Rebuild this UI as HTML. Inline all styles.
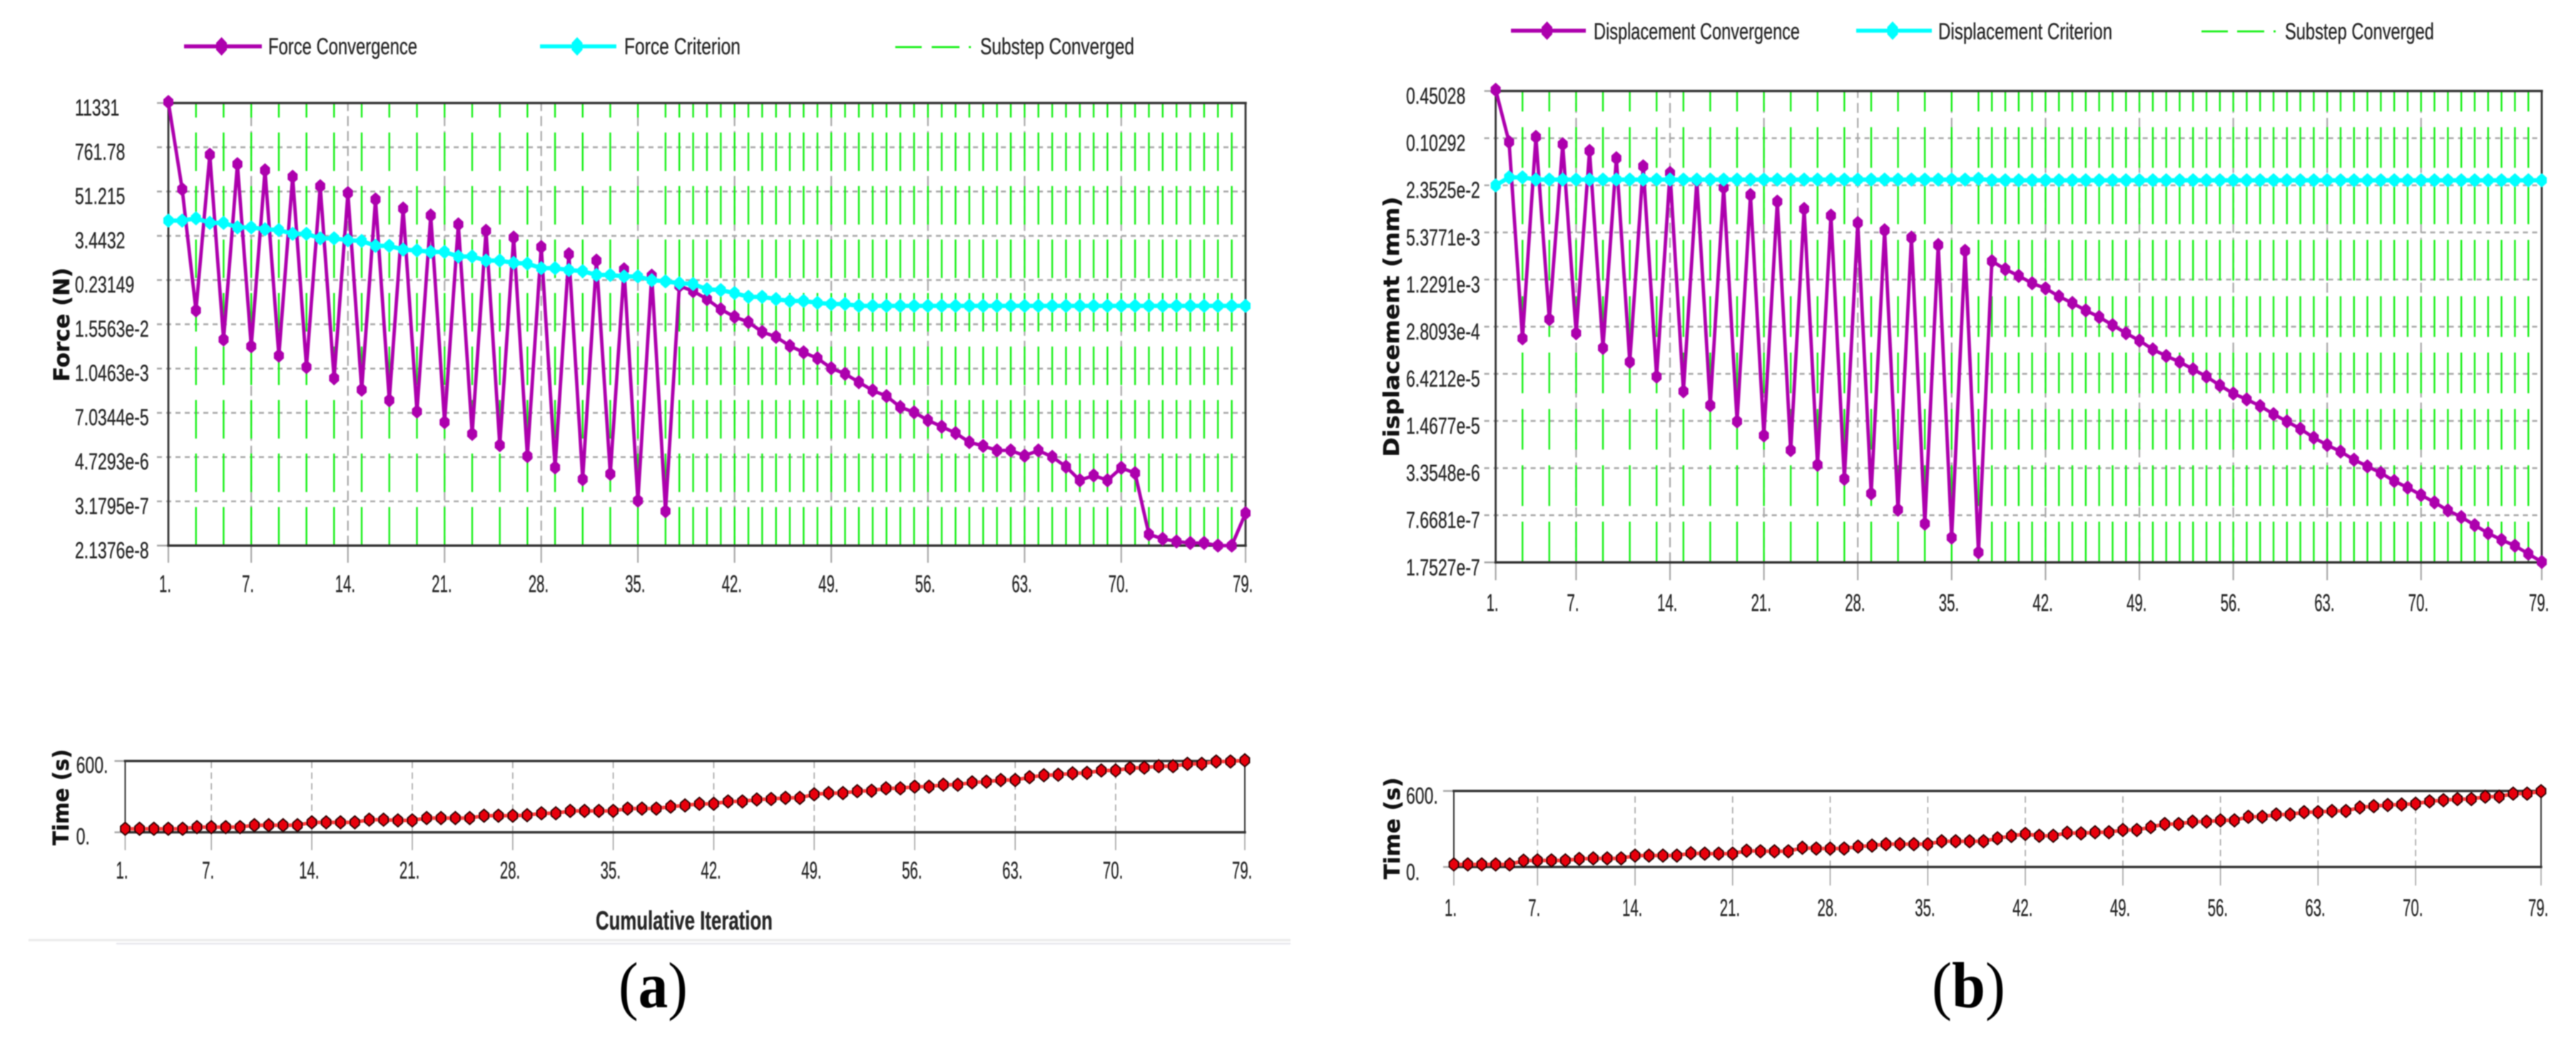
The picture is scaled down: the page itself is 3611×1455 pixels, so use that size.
<!DOCTYPE html>
<html lang="en">
<head>
<meta charset="utf-8">
<title>Force and displacement convergence charts</title>
<style>
html,body{margin:0;padding:0;background:#fff;}
svg{display:block;filter:blur(0.7px);}
text{font-family:"Liberation Sans",sans-serif;fill:#262626;stroke:#262626;stroke-width:0.35px;}
.legend{font-size:32px;}
.ytitle{font-family:"DejaVu Sans","Liberation Sans",sans-serif;font-weight:bold;font-size:30px;fill:#111;stroke:#111;}
.caption{font-family:"Liberation Serif",serif;font-size:91px;fill:#000;stroke:none;}
</style>
</head>
<body>
<svg id="figure" xmlns="http://www.w3.org/2000/svg" width="3611" height="1455" viewBox="0 0 3611 1455">
  <rect x="0" y="0" width="3611" height="1455" fill="#fff"/>

  <g id="panelA"></g>
  <g id="panelAtime"></g>
  <g id="panelB"></g>
  <g id="panelBtime"></g>

  <g>
    <g>
      <line x1="258" y1="65" x2="367" y2="65" stroke="#ad00ad" stroke-width="5.5"/>
      <polygon points="310.6,52 318,60 318,70 310.6,78 303,70 303,60" fill="#ad00ad"/>
      <text class="legend" x="376" y="76" textLength="209" lengthAdjust="spacingAndGlyphs">Force Convergence</text>
    </g>
    <g>
      <line x1="757" y1="65" x2="864" y2="65" stroke="#00ffff" stroke-width="5.5"/>
      <polygon points="809,52 816.5,60 816.5,70 809,78 801.5,70 801.5,60" fill="#00ffff"/>
      <text class="legend" x="875" y="76" textLength="163" lengthAdjust="spacingAndGlyphs">Force Criterion</text>
    </g>
    <g>
      <line x1="1255" y1="66" x2="1292" y2="66" stroke="#14f014" stroke-width="2.8"/>
      <line x1="1306" y1="66" x2="1345" y2="66" stroke="#14f014" stroke-width="2.8"/>
      <line x1="1358" y1="66" x2="1361" y2="66" stroke="#14f014" stroke-width="2.8"/>
      <text class="legend" x="1374" y="76" textLength="216" lengthAdjust="spacingAndGlyphs">Substep Converged</text>
    </g>
  </g>

  <g>
    <g>
      <line x1="2118" y1="43" x2="2223" y2="43" stroke="#ad00ad" stroke-width="5.5"/>
      <polygon points="2168.6,30 2176,38 2176,48 2168.6,56 2161,48 2161,38" fill="#ad00ad"/>
      <text class="legend" x="2234" y="55" textLength="289" lengthAdjust="spacingAndGlyphs">Displacement Convergence</text>
    </g>
    <g>
      <line x1="2602" y1="43" x2="2708" y2="43" stroke="#00ffff" stroke-width="5.5"/>
      <polygon points="2653,30 2660.5,38 2660.5,48 2653,56 2645.5,48 2645.5,38" fill="#00ffff"/>
      <text class="legend" x="2717" y="55" textLength="244" lengthAdjust="spacingAndGlyphs">Displacement Criterion</text>
    </g>
    <g>
      <line x1="3086" y1="44" x2="3123" y2="44" stroke="#14f014" stroke-width="2.8"/>
      <line x1="3136" y1="44" x2="3174" y2="44" stroke="#14f014" stroke-width="2.8"/>
      <line x1="3187" y1="44" x2="3190" y2="44" stroke="#14f014" stroke-width="2.8"/>
      <text class="legend" x="3203" y="55" textLength="209" lengthAdjust="spacingAndGlyphs">Substep Converged</text>
    </g>
  </g>

  <text class="ytitle" transform="translate(97 455) rotate(-90)" text-anchor="middle" textLength="160" lengthAdjust="spacingAndGlyphs">Force (N)</text>
  <text class="ytitle" transform="translate(1961 458) rotate(-90)" text-anchor="middle" textLength="365" lengthAdjust="spacingAndGlyphs">Displacement (mm)</text>
  <text class="ytitle" transform="translate(96 1117.5) rotate(-90)" text-anchor="middle" textLength="135" lengthAdjust="spacingAndGlyphs">Time (s)</text>
  <text class="ytitle" transform="translate(1962 1161) rotate(-90)" text-anchor="middle" textLength="143" lengthAdjust="spacingAndGlyphs">Time (s)</text>

  <text x="835" y="1303" font-size="37" font-weight="bold" textLength="248" lengthAdjust="spacingAndGlyphs">Cumulative Iteration</text>

  <rect x="40" y="1316" width="1769" height="3.5" fill="#ececec"/>
  <rect x="163" y="1321.5" width="1646" height="2.5" fill="#e9e9ef"/>

  <text class="caption" x="867" y="1412" textLength="97" lengthAdjust="spacingAndGlyphs">(<tspan font-weight="bold">a</tspan>)</text>
  <text class="caption" x="2708" y="1412" textLength="103" lengthAdjust="spacingAndGlyphs">(<tspan font-weight="bold">b</tspan>)</text>
</svg>

<script>
// ---------- chart data ----------
const iterationTicks = [1,7,14,21,28,35,42,49,56,63,70,79];
const iterationTickLabels = ["1.","7.","14.","21.","28.","35.","42.","49.","56.","63.","70.","79."];
const substepIterations = [3,5,7,9,11,13,15,17,19,21,23,25,27,29,31,33,35,37,38,39,40,41,42,43,44,45,46,47,48,49,50,51,52,53,54,55,56,57,58,59,60,61,62,63,64,65,66,67,68,69,70,71,72,73,74,75,76,77,78];

const forceTicks = [11331,761.78,51.215,3.4432,0.23149,1.5563e-2,1.0463e-3,7.0344e-5,4.7293e-6,3.1795e-7,2.1376e-8];
const forceTickLabels = ["11331","761.78","51.215","3.4432","0.23149","1.5563e-2","1.0463e-3","7.0344e-5","4.7293e-6","3.1795e-7","2.1376e-8"];
const forceConvergenceLog10 = [4.08,1.77,-1.44,2.685,-2.21,2.435,-2.39,2.27,-2.64,2.10,-2.94,1.85,-3.235,1.67,-3.54,1.50,-3.82,1.26,-4.12,1.075,-4.40,0.84,-4.71,0.67,-5.01,0.49,-5.30,0.24,-5.60,0.05,-5.91,-0.12,-5.77,-0.35,-6.48,-0.52,-6.76,-0.79,-0.93,-1.14,-1.41,-1.61,-1.75,-2.01,-2.14,-2.38,-2.55,-2.71,-2.97,-3.12,-3.34,-3.56,-3.71,-4.00,-4.14,-4.35,-4.52,-4.69,-4.93,-5.03,-5.15,-5.15,-5.29,-5.15,-5.32,-5.58,-5.94,-5.81,-5.94,-5.61,-5.75,-7.37,-7.49,-7.56,-7.60,-7.60,-7.67,-7.67,-6.81];
const forceCriterionLog10 = [0.94,0.94,1.00,0.88,0.88,0.76,0.76,0.71,0.69,0.59,0.59,0.47,0.47,0.42,0.40,0.27,0.27,0.17,0.15,0.11,0.11,-0.01,-0.01,-0.12,-0.12,-0.18,-0.20,-0.32,-0.32,-0.37,-0.40,-0.50,-0.50,-0.54,-0.54,-0.64,-0.67,-0.72,-0.74,-0.88,-0.90,-0.98,-1.08,-1.08,-1.14,-1.19,-1.19,-1.24,-1.27,-1.27,-1.32,-1.32,-1.32,-1.32,-1.32,-1.32,-1.32,-1.32,-1.32,-1.32,-1.32,-1.32,-1.32,-1.32,-1.32,-1.32,-1.32,-1.32,-1.32,-1.32,-1.32,-1.32,-1.32,-1.32,-1.32,-1.32,-1.32,-1.32,-1.32];

const dispTicks = [0.45028,0.10292,2.3525e-2,5.3771e-3,1.2291e-3,2.8093e-4,6.4212e-5,1.4677e-5,3.3548e-6,7.6681e-7,1.7527e-7];
const dispTickLabels = ["0.45028","0.10292","2.3525e-2","5.3771e-3","1.2291e-3","2.8093e-4","6.4212e-5","1.4677e-5","3.3548e-6","7.6681e-7","1.7527e-7"];
const dispConvergenceLog10 = [-0.33,-1.04,-3.71,-0.97,-3.45,-1.07,-3.64,-1.16,-3.84,-1.26,-4.03,-1.37,-4.23,-1.46,-4.43,-1.56,-4.62,-1.66,-4.84,-1.76,-5.03,-1.85,-5.23,-1.95,-5.43,-2.04,-5.62,-2.14,-5.82,-2.24,-6.04,-2.34,-6.23,-2.44,-6.42,-2.52,-6.62,-2.66,-2.77,-2.86,-2.96,-3.03,-3.14,-3.23,-3.33,-3.42,-3.53,-3.64,-3.74,-3.86,-3.95,-4.03,-4.13,-4.23,-4.35,-4.46,-4.54,-4.63,-4.74,-4.84,-4.94,-5.06,-5.16,-5.25,-5.36,-5.45,-5.54,-5.65,-5.74,-5.84,-5.94,-6.05,-6.14,-6.25,-6.36,-6.45,-6.53,-6.64,-6.75];
const dispCriterionLog10 = [-1.63,-1.52,-1.52,-1.55,-1.55,-1.55,-1.55,-1.55,-1.55,-1.55,-1.55,-1.55,-1.55,-1.55,-1.55,-1.55,-1.55,-1.55,-1.55,-1.55,-1.55,-1.55,-1.55,-1.55,-1.55,-1.55,-1.55,-1.55,-1.55,-1.55,-1.55,-1.55,-1.55,-1.55,-1.55,-1.55,-1.54,-1.56,-1.56,-1.56,-1.56,-1.56,-1.56,-1.56,-1.56,-1.56,-1.56,-1.56,-1.56,-1.56,-1.56,-1.56,-1.56,-1.56,-1.56,-1.56,-1.56,-1.56,-1.56,-1.56,-1.56,-1.56,-1.56,-1.56,-1.56,-1.56,-1.56,-1.56,-1.56,-1.56,-1.56,-1.56,-1.56,-1.56,-1.56,-1.56,-1.56,-1.56,-1.56];

const timeTicks = [0,600];
const timeTickLabels = ["0.","600."];
const timeSeriesA = [30,30,30,30,30,44,44,44,44,60,60,60,60,84,84,84,84,106,106,100,100,120,120,120,120,140,140,140,144,160,160,180,180,180,180,200,200,200,216,226,240,240,260,260,276,280,290,290,320,330,330,346,350,370,370,384,384,400,400,420,426,440,440,464,480,484,496,500,520,520,540,544,556,556,576,576,596,596,606];
const timeSeriesB = [20,20,20,20,20,50,52,52,52,64,68,68,68,90,90,90,90,109,105,105,105,129,124,124,124,152,146,146,146,161,169,180,180,180,180,203,203,203,203,226,245,261,246,246,270,265,274,274,292,292,315,339,339,358,358,368,368,396,396,414,414,433,433,442,442,470,480,489,493,499,518,527,536,536,555,555,579,579,598];

// ---------- helpers ----------
const SVGNS = 'http://www.w3.org/2000/svg';
function mk(tag, parent, attrs) {
  const node = document.createElementNS(SVGNS, tag);
  for (const key in attrs) node.setAttribute(key, attrs[key]);
  parent.appendChild(node);
  return node;
}
function markerPoints(x, y, halfW, halfH) {
  const s = halfH * 0.38;
  return [[x,y-halfH],[x+halfW,y-s],[x+halfW,y+s],[x,y+halfH],[x-halfW,y+s],[x-halfW,y-s]]
    .map(p => p[0].toFixed(1) + ',' + p[1].toFixed(1)).join(' ');
}
function linearScale(d0, d1, r0, r1) {
  return v => r0 + (v - d0) / (d1 - d0) * (r1 - r0);
}
function drawTickLabelX(parent, px, baseline, label) {
  const offset = label.length > 2 ? 18 : 13;
  const t = mk('text', parent, {transform: 'translate(' + (px - offset) + ' ' + baseline + ') scale(0.6 1)', 'font-size': 34});
  
  
  t.textContent = label;
}
function drawXTicks(parent, cfg, x) {
  iterationTicks.forEach((it, i) => {
    const px = x(it);
    const tick = mk('line', parent, {x1: px, x2: px, y1: cfg.bottom, y2: cfg.bottom + cfg.tickLen, stroke: '#a8a8a8', 'stroke-width': cfg.vWidth});
    
    
    if (it !== iterationTicks[0] && it !== iterationTicks[iterationTicks.length - 1]) {
      const g = mk('line', parent, {x1: px, x2: px, y1: cfg.bottom, y2: cfg.top, stroke: '#a8a8a8', 'stroke-width': cfg.vWidth, 'stroke-dasharray': cfg.vDash});
      
      
    }
    drawTickLabelX(parent, px, cfg.xLabelBaseline, iterationTickLabels[i]);
  });
}
function drawBorder(parent, cfg) {
  const sides = [
    ['border-top', cfg.left, cfg.top, cfg.right, cfg.top, cfg.hBorder],
    ['border-bottom', cfg.left, cfg.bottom, cfg.right, cfg.bottom, cfg.hBorder],
    ['border-left', cfg.left, cfg.top, cfg.left, cfg.bottom, cfg.vBorder],
    ['border-right', cfg.right, cfg.top, cfg.right, cfg.bottom, cfg.vBorder]
  ];
  sides.forEach(s => {
    const b = mk('line', parent, {x1: s[1], y1: s[2], x2: s[3], y2: s[4], stroke: '#333', 'stroke-width': s[5], 'stroke-linecap': 'square'});
    
    
  });
}
function drawSeries(parent, values, x, y, color, lineWidth, halfW, halfH, seriesName, markerStroke) {
  const pts = values.map((v, i) => x(i + 1).toFixed(1) + ',' + y(v).toFixed(1)).join(' ');
  const line = mk('polyline', parent, {points: pts, fill: 'none', stroke: markerStroke ? '#ff3b3b' : color, 'stroke-width': lineWidth, 'stroke-linejoin': 'round'});
  
  
  values.forEach((v, i) => {
    const m = mk('polygon', parent, {points: markerPoints(x(i + 1), y(v), halfW, halfH), fill: color});
    if (markerStroke) {
      m.setAttribute('stroke', markerStroke);
      m.setAttribute('stroke-width', '1.8');
    }
    
    
  });
}

// ---------- main log charts ----------
function drawMainChart(parent, cfg, ticks, labels, conv, crit, convName, critName) {
  const x = linearScale(1, 79, cfg.left, cfg.right);
  const logMax = Math.log10(ticks[0]);
  const logMin = Math.log10(ticks[ticks.length - 1]);
  const y = linearScale(logMax, logMin, cfg.top, cfg.bottom);

  ticks.forEach((t, i) => {
    const py = y(Math.log10(t));
    if (i > 0 && i < ticks.length - 1) {
      const g = mk('line', parent, {x1: cfg.left - 16, x2: cfg.right, y1: py, y2: py, stroke: '#aaaaaa', 'stroke-width': 2.6, 'stroke-dasharray': '7 6'});
      
      
    } else {
      const stub = mk('line', parent, {x1: cfg.left - 16, x2: cfg.left, y1: py, y2: py, stroke: '#aaaaaa', 'stroke-width': 2.6});
      
      
    }
    const lab = mk('text', parent, {transform: 'translate(' + cfg.labelX + ' ' + (py + cfg.labelDy) + ') scale(0.72 1)', 'font-size': 32});
    
    
    lab.textContent = labels[i];
  });

  drawXTicks(parent, cfg, x);

  substepIterations.forEach(it => {
    const px = x(it);
    const g = mk('line', parent, {x1: px, x2: px, y1: cfg.bottom, y2: cfg.top, stroke: '#14f014', 'stroke-width': 2.4, 'stroke-dasharray': cfg.greenDash});
    
    
  });

  drawBorder(parent, cfg);
  drawSeries(parent, conv, x, y, '#ad00ad', 4.8, 7, 10, convName);
  drawSeries(parent, crit, x, y, '#00ffff', 6, 7, 10, critName);
}

// ---------- time charts ----------
function drawTimeChart(parent, cfg, values) {
  const x = linearScale(1, 79, cfg.left, cfg.right);
  const y = linearScale(timeTicks[0], timeTicks[1], cfg.bottom, cfg.top);

  timeTicks.forEach((t, i) => {
    const py = y(t);
    const stub = mk('line', parent, {x1: cfg.left - 15, x2: cfg.left, y1: py, y2: py, stroke: '#aaaaaa', 'stroke-width': 2.6});
    
    
    const lab = mk('text', parent, {transform: 'translate(' + cfg.labelX + ' ' + (py + cfg.labelDy) + ') scale(0.72 1)', 'font-size': 32});
    
    
    lab.textContent = timeTickLabels[i];
  });

  drawXTicks(parent, cfg, x);
  drawBorder(parent, cfg);
  drawSeries(parent, values, x, y, '#e8000c', 5, 6.5, 9, 'time', '#2a0000');
}

drawMainChart(document.getElementById('panelA'),
  {left: 236, right: 1746, top: 144.4, bottom: 764.8, labelX: 105, labelDy: 17.5, tickLen: 24, xLabelBaseline: 830, vWidth: 2.2, vDash: '14 7', greenDash: '54 21', hBorder: 3.4, vBorder: 2.8},
  forceTicks, forceTickLabels, forceConvergenceLog10, forceCriterionLog10, 'force-convergence', 'force-criterion');

drawMainChart(document.getElementById('panelB'),
  {left: 2096.6, right: 3563, top: 127.6, bottom: 788.3, labelX: 1971, labelDy: 18, tickLen: 25, xLabelBaseline: 856.7, vWidth: 2.2, vDash: '14 7', greenDash: '57 22', hBorder: 3.4, vBorder: 2.8},
  dispTicks, dispTickLabels, dispConvergenceLog10, dispCriterionLog10, 'displacement-convergence', 'displacement-criterion');

drawTimeChart(document.getElementById('panelAtime'),
  {left: 175.5, right: 1745, top: 1066.7, bottom: 1166.7, labelX: 106.7, labelDy: 16.6, tickLen: 25, xLabelBaseline: 1231.7, vWidth: 1.7, vDash: '9 6', hBorder: 3.4, vBorder: 2},
  timeSeriesA);

drawTimeChart(document.getElementById('panelBtime'),
  {left: 2038, right: 3562, top: 1108.7, bottom: 1215.3, labelX: 1971, labelDy: 18, tickLen: 26, xLabelBaseline: 1284, vWidth: 1.7, vDash: '9 6', hBorder: 3.4, vBorder: 2},
  timeSeriesB);
</script>
</body>
</html>
